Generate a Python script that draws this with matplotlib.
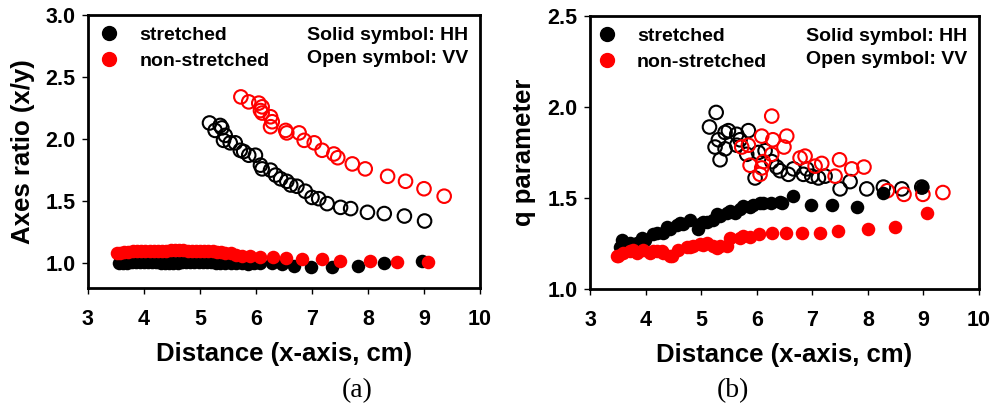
import matplotlib
matplotlib.use("Agg")
import matplotlib.pyplot as plt
from matplotlib.lines import Line2D

plt.rcParams["font.family"] = ["Liberation Sans", "DejaVu Sans"]
plt.rcParams["font.weight"] = "bold"

# ---- panel (a): axes ratio ----
a_str_hh_x = [3.55, 3.62, 3.70, 3.78, 3.85, 3.92, 4.00, 4.07, 4.15, 4.22, 4.30, 4.37, 4.45,
              4.52, 4.60, 4.68, 4.75, 4.83, 4.90, 4.98, 5.05, 5.13, 5.20, 5.28, 5.36, 5.45,
              5.55, 5.65, 5.75, 5.85, 5.97, 6.08, 6.28, 6.47, 6.67, 6.98, 7.36, 7.82, 8.28, 8.96]
a_str_hh_y = [1.00, 1.00, 1.00, 1.01, 1.01, 1.01, 1.01, 1.01, 1.01, 1.01, 1.00, 1.00, 1.00,
              1.00, 1.00, 1.01, 1.01, 1.01, 1.01, 1.01, 1.01, 1.01, 1.01, 1.00, 1.00, 1.00,
              1.00, 1.00, 1.00, 0.99, 1.00, 1.00, 1.00, 0.99, 0.98, 0.97, 0.97, 0.98, 1.00, 1.02]
a_non_hh_x = [3.52, 3.58, 3.65, 3.72, 3.80, 3.88, 3.95, 4.02, 4.10, 4.18, 4.25, 4.33, 4.40,
              4.48, 4.55, 4.62, 4.70, 4.78, 4.85, 4.93, 5.00, 5.08, 5.15, 5.23, 5.30, 5.38,
              5.45, 5.55, 5.65, 5.75, 5.90, 6.08, 6.30, 6.53, 6.82, 7.17, 7.50, 8.03, 8.51, 9.07]
a_non_hh_y = [1.08, 1.08, 1.09, 1.09, 1.10, 1.10, 1.10, 1.10, 1.10, 1.10, 1.10, 1.10, 1.10,
              1.11, 1.11, 1.11, 1.11, 1.10, 1.10, 1.10, 1.10, 1.10, 1.10, 1.10, 1.09, 1.09,
              1.08, 1.08, 1.07, 1.06, 1.06, 1.05, 1.05, 1.04, 1.03, 1.03, 1.02, 1.02, 1.01, 1.01]
a_str_vv_x = [5.17, 5.27, 5.36, 5.39, 5.45, 5.42, 5.54, 5.63, 5.72, 5.78, 5.87, 5.99, 6.08,
              6.11, 6.26, 6.35, 6.44, 6.55, 6.62, 6.73, 6.88, 7.00, 7.12, 7.27, 7.51, 7.69,
              7.99, 8.29, 8.65, 9.01]
a_str_vv_y = [2.13, 2.07, 2.11, 2.09, 2.03, 1.99, 1.97, 1.97, 1.91, 1.90, 1.87, 1.87, 1.79,
              1.76, 1.75, 1.71, 1.68, 1.66, 1.63, 1.62, 1.58, 1.53, 1.52, 1.48, 1.45, 1.44,
              1.41, 1.40, 1.38, 1.34]
a_non_vv_x = [5.73, 5.87, 6.05, 6.11, 6.08, 6.11, 6.26, 6.29, 6.26, 6.53, 6.55, 6.77, 6.86,
              7.04, 7.18, 7.39, 7.46, 7.72, 7.95, 8.35, 8.67, 9.00, 9.36]
a_non_vv_y = [2.34, 2.30, 2.29, 2.26, 2.23, 2.21, 2.18, 2.14, 2.10, 2.07, 2.05, 2.05, 1.99,
              1.97, 1.91, 1.88, 1.85, 1.80, 1.76, 1.70, 1.66, 1.60, 1.54]

# ---- panel (b): q parameter ----
b_str_hh_x = [3.54, 3.57, 3.72, 3.84, 3.93, 3.99, 4.14, 4.20, 4.32, 4.38, 4.44, 4.56, 4.62,
              4.68, 4.80, 4.95, 4.98, 5.04, 5.10, 5.22, 5.28, 5.34, 5.46, 5.52, 5.61, 5.70,
              5.76, 5.88, 5.94, 6.06, 6.11, 6.25, 6.42, 6.46, 6.66, 6.97, 7.35, 7.81, 8.28, 8.98]
b_str_hh_y = [1.23, 1.27, 1.25, 1.25, 1.28, 1.27, 1.30, 1.31, 1.31, 1.34, 1.33, 1.35, 1.36,
              1.355, 1.38, 1.33, 1.355, 1.37, 1.37, 1.38, 1.41, 1.40, 1.42, 1.43, 1.42, 1.44,
              1.455, 1.45, 1.46, 1.47, 1.475, 1.475, 1.48, 1.47, 1.51, 1.46, 1.46, 1.45, 1.53, 1.56]
b_non_hh_x = [3.49, 3.51, 3.60, 3.72, 3.78, 3.84, 3.96, 4.08, 4.14, 4.20, 4.29, 4.32, 4.44,
              4.47, 4.59, 4.74, 4.80, 4.86, 4.98, 5.04, 5.10, 5.22, 5.28, 5.34, 5.46, 5.52,
              5.70, 5.76, 5.88, 6.04, 6.27, 6.52, 6.81, 7.14, 7.47, 8.01, 8.49, 9.06]
b_non_hh_y = [1.18, 1.18, 1.20, 1.21, 1.215, 1.20, 1.215, 1.20, 1.21, 1.21, 1.21, 1.20, 1.18,
              1.18, 1.215, 1.23, 1.23, 1.235, 1.245, 1.24, 1.25, 1.235, 1.225, 1.235, 1.235, 1.28,
              1.28, 1.29, 1.285, 1.30, 1.31, 1.31, 1.31, 1.31, 1.32, 1.33, 1.34, 1.42]
b_str_vv_x = [5.27, 5.15, 5.43, 5.49, 5.31, 5.64, 5.85, 5.25, 5.43, 5.34, 5.64, 5.70, 5.82,
              6.03, 6.15, 5.97, 6.27, 6.36, 6.42, 6.57, 6.66, 6.84, 6.90, 6.99, 7.11, 7.23,
              7.50, 7.68, 7.98, 8.28, 8.61, 8.97]
b_str_vv_y = [1.97, 1.89, 1.86, 1.87, 1.82, 1.85, 1.87, 1.78, 1.77, 1.71, 1.79, 1.82, 1.74,
              1.75, 1.76, 1.61, 1.70, 1.67, 1.65, 1.63, 1.66, 1.63, 1.66, 1.62, 1.61, 1.62,
              1.55, 1.59, 1.55, 1.56, 1.55, 1.56]
b_non_vv_x = [6.27, 6.09, 6.29, 6.54, 6.49, 5.73, 5.85, 5.88, 6.06, 6.12, 6.27, 6.09, 6.78,
              6.87, 7.05, 7.17, 7.41, 7.49, 7.71, 7.93, 8.35, 8.65, 8.99, 9.35]
b_non_vv_y = [1.95, 1.84, 1.82, 1.84, 1.78, 1.78, 1.79, 1.68, 1.63, 1.70, 1.74, 1.665, 1.72,
              1.73, 1.675, 1.69, 1.62, 1.71, 1.66, 1.67, 1.54, 1.52, 1.52, 1.53]

x_ticks = [3, 4, 5, 6, 7, 8, 9, 10]
a_yticks = [1.0, 1.5, 2.0, 2.5, 3.0]
b_yticks = [1.0, 1.5, 2.0, 2.5]

RED = "#ff0000"
MS = 95


def draw_panel(ax, s_hh, n_hh, s_vv, n_vv, ylim, yticks, ylabel, ylab_x, leg_x):
    ax.scatter(*s_vv, s=MS, facecolors="none", edgecolors="black", linewidths=1.5, zorder=3)
    ax.scatter(*n_vv, s=MS, facecolors="none", edgecolors=RED, linewidths=1.5, zorder=3)
    ax.scatter(*s_hh, s=MS, color="black", linewidths=0, zorder=4)
    ax.scatter(*n_hh, s=MS, color=RED, linewidths=0, zorder=4)

    ax.set_xlim(3, 10)
    ax.set_ylim(*ylim)
    ax.set_xticks(x_ticks)
    ax.set_yticks(yticks)
    ax.set_yticklabels([f"{v:.1f}" for v in yticks])
    ax.tick_params(direction="out", length=4, width=1, labelsize=15.5, top=False, right=False)
    ax.tick_params(axis="x", pad=11)
    ax.tick_params(axis="y", pad=5)
    for sp in ax.spines.values():
        sp.set_linewidth(2)
    ax.set_xlabel("Distance (x-axis, cm)", fontsize=18.5, fontweight="bold")
    ax.xaxis.set_label_coords(0.5, -0.24)
    ax.xaxis.label.set_va("center")
    ax.set_ylabel(ylabel, fontsize=18.5, fontweight="bold")
    ax.yaxis.set_label_coords(ylab_x, 0.5)
    ax.yaxis.label.set_va("center")

    handles = [Line2D([], [], ls="none", marker="o", ms=10, mfc="black", mec="black"),
               Line2D([], [], ls="none", marker="o", ms=10, mfc=RED, mec=RED)]
    ax.legend(handles, ["stretched", "non-stretched"], loc="upper left", frameon=False,
              fontsize=14, handlelength=1.0, handletextpad=1.05, labelspacing=0.42,
              borderaxespad=0.2, bbox_to_anchor=(leg_x, 1.0))
    ax.text(0.97, 0.925, "Solid symbol: HH", transform=ax.transAxes, ha="right",
            va="center", fontsize=14)
    ax.text(0.97, 0.84, "Open symbol: VV", transform=ax.transAxes, ha="right",
            va="center", fontsize=14)


fig = plt.figure(figsize=(9.93, 4.09), dpi=100)
ax1 = fig.add_axes([0.0886, 0.2958, 0.3948, 0.6675])
ax2 = fig.add_axes([0.5942, 0.2934, 0.3917, 0.6675])

draw_panel(ax1, (a_str_hh_x, a_str_hh_y), (a_non_hh_x, a_non_hh_y),
           (a_str_vv_x, a_str_vv_y), (a_non_vv_x, a_non_vv_y),
           (0.8, 3.0), a_yticks, "Axes ratio (x/y)", -0.165, 0.0)
draw_panel(ax2, (b_str_hh_x, b_str_hh_y), (b_non_hh_x, b_non_hh_y),
           (b_str_vv_x, b_str_vv_y), (b_non_vv_x, b_non_vv_y),
           (1.0, 2.5), b_yticks, "q parameter", -0.17, -0.012)

fig.text(0.36, 0.045, "(a)", ha="center", va="center", fontsize=20,
         family="Liberation Serif", fontweight="normal")
fig.text(0.738, 0.045, "(b)", ha="center", va="center", fontsize=20,
         family="Liberation Serif", fontweight="normal")

fig.savefig("out.png", dpi=100)
